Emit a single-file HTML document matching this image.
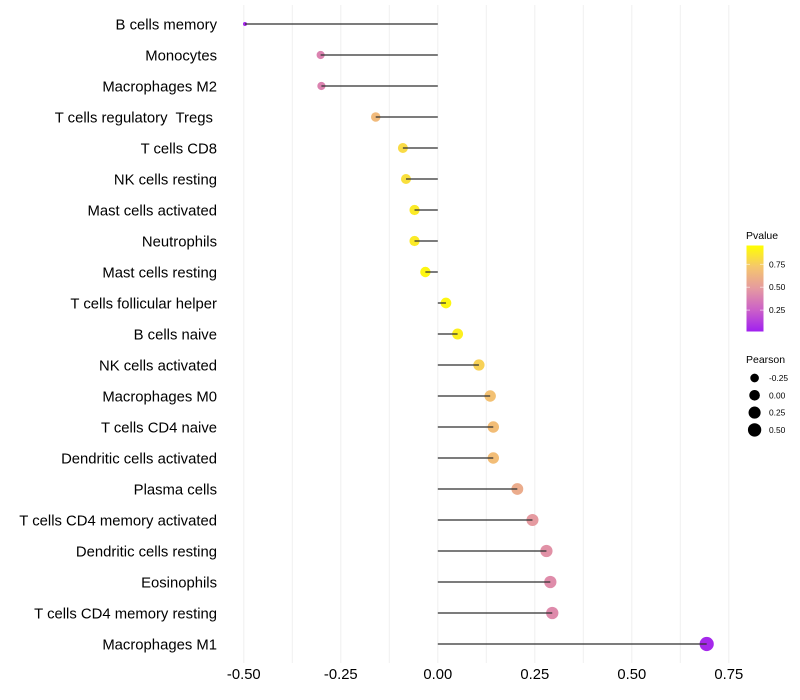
<!DOCTYPE html>
<html lang="en">
<head>
<meta charset="utf-8">
<title>Immune cell correlation lollipop chart</title>
<style>
html,body{margin:0;padding:0;background:#fff;width:800px;height:700px;overflow:hidden}
svg{display:block;font-family:"Liberation Sans",sans-serif}
</style>
</head>
<body>
<svg id="chart" xmlns="http://www.w3.org/2000/svg" width="800" height="700" viewBox="0 0 800 700">
  <defs>
    <linearGradient id="pvalue-gradient" x1="0" y1="1" x2="0" y2="0"></linearGradient>
  </defs>
  <rect x="0" y="0" width="800" height="700" fill="#ffffff"></rect>
  <g id="grid"></g>
  <g id="marks"></g>
  <g id="y-labels"></g>
  <g id="x-labels"></g>
  <g id="legend-color">
    <text x="746" y="239" font-size="10.5" fill="#000">Pvalue</text>
    <rect x="746.5" y="245.5" width="17" height="86" fill="url(#pvalue-gradient)"></rect>
  </g>
  <g id="legend-size">
    <text x="746" y="363" font-size="10.5" fill="#000">Pearson</text>
  </g>
</svg>
<script>
const categories = ["B cells memory","Monocytes","Macrophages M2","T cells regulatory  Tregs ","T cells CD8","NK cells resting","Mast cells activated","Neutrophils","Mast cells resting","T cells follicular helper","B cells naive","NK cells activated","Macrophages M0","T cells CD4 naive","Dendritic cells activated","Plasma cells","T cells CD4 memory activated","Dendritic cells resting","Eosinophils","T cells CD4 memory resting","Macrophages M1"];
const pearson = [-0.497,-0.302,-0.300,-0.160,-0.090,-0.082,-0.060,-0.060,-0.032,0.021,0.051,0.106,0.135,0.143,0.143,0.205,0.244,0.280,0.290,0.295,0.693];
const pvalues = [0.03,0.40,0.40,0.68,0.84,0.86,0.91,0.91,0.96,0.96,0.93,0.80,0.72,0.70,0.70,0.60,0.50,0.46,0.44,0.43,0.03];
const xTicks = [-0.5,-0.25,0,0.25,0.5,0.75];
const xMinorTicks = [-0.375,-0.125,0.125,0.375,0.625];
const pvalueTicks = [0.25,0.5,0.75];
const pearsonLegend = [-0.25,0,0.25,0.5];

const SVG_NS = "http://www.w3.org/2000/svg";
const rampStops = [[0,"#a020f0"],[0.25,"#cb60c8"],[0.5,"#e59aa0"],[0.75,"#f5c66d"],[1,"#ffff00"]];
const sizeMin = Math.min.apply(null, pearson);
const sizeMax = Math.max.apply(null, pearson);

function xScale(v){ return 437.8 + v * 388; }
function yScale(i){ return 24 + i * 31; }
function pvalueY(p){ return 333 - p * 91.6; }
function radius(v){
  const t = Math.max(0, (v - sizeMin) / (sizeMax - sizeMin));
  return 2 + 5.1 * Math.sqrt(t);
}
function hexToRgb(h){ return [1,3,5].map(function(k){ return parseInt(h.substr(k,2),16); }); }
function ramp(p){
  const c = Math.max(0, Math.min(1, p));
  for (let k = 1; k < rampStops.length; k++){
    if (c <= rampStops[k][0]){
      const a = rampStops[k-1], b = rampStops[k];
      const t = (c - a[0]) / (b[0] - a[0]);
      const A = hexToRgb(a[1]), B = hexToRgb(b[1]);
      return "rgb(" + A.map(function(x,j){ return Math.round(x + (B[j]-x)*t); }).join(",") + ")";
    }
  }
  return rampStops[rampStops.length-1][1];
}
function make(tag, attrs, parent){
  const el = document.createElementNS(SVG_NS, tag);
  for (const k in attrs) el.setAttribute(k, attrs[k]);
  parent.appendChild(el);
  return el;
}

const gridG = document.getElementById("grid");
xMinorTicks.concat(xTicks).forEach(function(t){
  const line = make("line", {x1:xScale(t), x2:xScale(t), y1:5, y2:663, stroke:"#f0f0f0", "stroke-width":1}, gridG);
  
  
});

const marksG = document.getElementById("marks");
categories.forEach(function(name, i){
  const dot = make("circle", {cx:xScale(pearson[i]), cy:yScale(i), r:radius(pearson[i]), fill:ramp(pvalues[i])}, marksG);
  
  
  const stem = make("line", {x1:xScale(0), x2:xScale(pearson[i]), y1:yScale(i), y2:yScale(i), stroke:"#333333", "stroke-width":1.5, "stroke-opacity":0.85}, marksG);
  
  
});

const yG = document.getElementById("y-labels");
categories.forEach(function(name, i){
  const label = make("text", {x:217, y:yScale(i)+5.5, "text-anchor":"end", "font-size":14.85, fill:"#000", "xml:space":"preserve", style:"white-space:pre"}, yG);
  
  
  label.textContent = name;
});

const xG = document.getElementById("x-labels");
xTicks.forEach(function(t){
  const label = make("text", {x:xScale(t), y:679, "text-anchor":"middle", "font-size":14.8, fill:"#000"}, xG);
  
  
  label.textContent = t.toFixed(2);
});

const grad = document.getElementById("pvalue-gradient");
rampStops.forEach(function(s){
  make("stop", {offset:s[0], "stop-color":s[1]}, grad);
});

const colorG = document.getElementById("legend-color");
pvalueTicks.forEach(function(p){
  const y = pvalueY(p);
  const tickL = make("line", {x1:746.5, x2:750, y1:y, y2:y, stroke:"#ffffff", "stroke-opacity":0.7, "stroke-width":0.8}, colorG);
  
  
  const tickR = make("line", {x1:760, x2:763.5, y1:y, y2:y, stroke:"#ffffff", "stroke-opacity":0.7, "stroke-width":0.8}, colorG);
  
  
  const label = make("text", {x:769, y:y+3, "font-size":8.4, fill:"#000"}, colorG);
  
  
  label.textContent = p.toFixed(2);
});

const sizeG = document.getElementById("legend-size");
pearsonLegend.forEach(function(v, i){
  const y = 378 + i * 17.3;
  const dot = make("circle", {cx:754.6, cy:y, r:radius(v), fill:"#000"}, sizeG);
  
  
  const label = make("text", {x:769, y:y+3, "font-size":8.4, fill:"#000"}, sizeG);
  
  
  label.textContent = v.toFixed(2);
});
</script>
</body>
</html>
